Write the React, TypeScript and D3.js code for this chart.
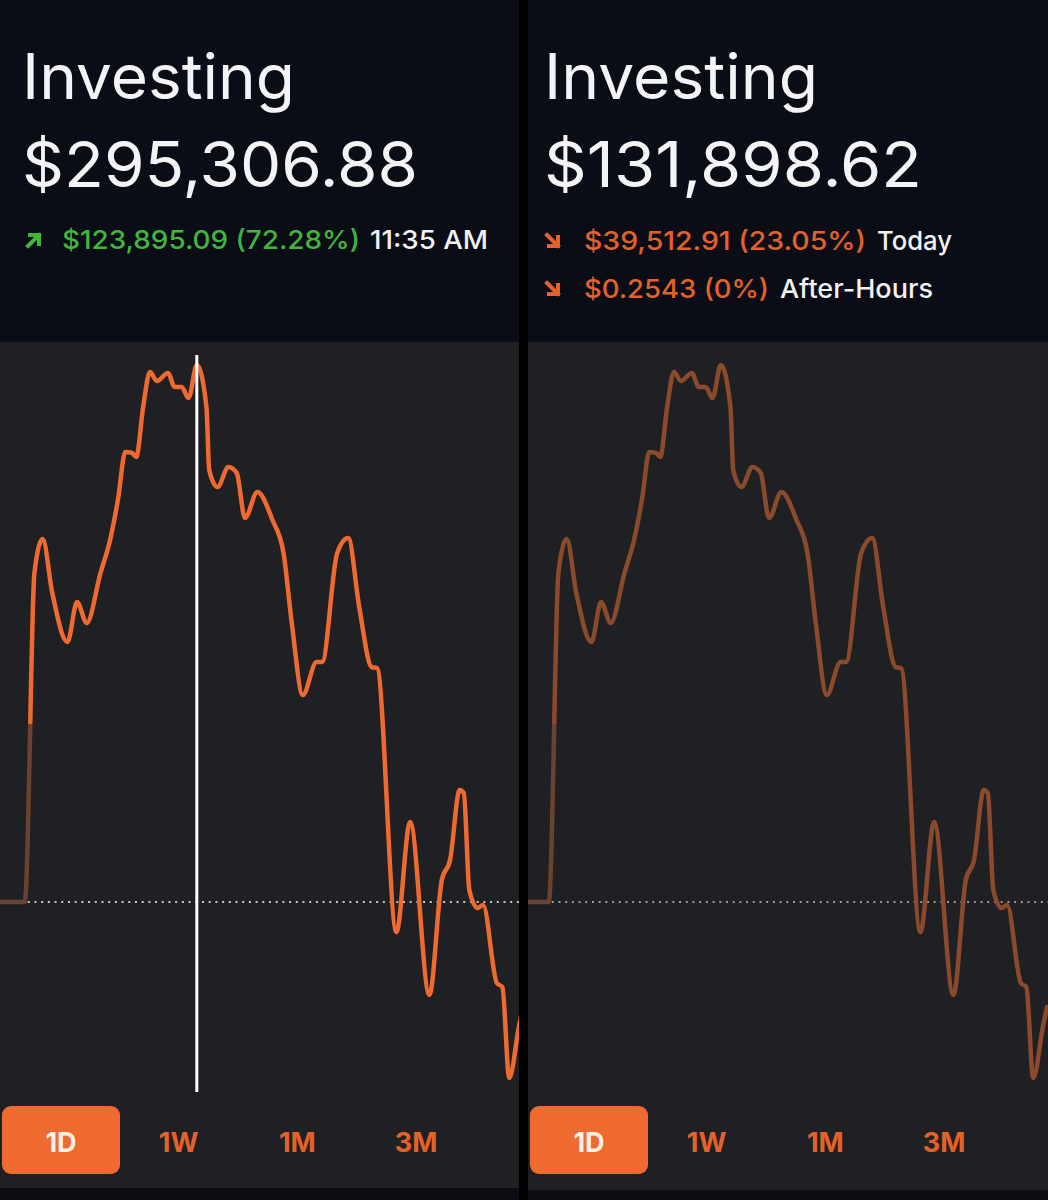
import React from "react";
import * as d3 from "d3";

// ---- data ----
// minutes after the 9:30 open (negative = pre-market)
const minutes = [-18, 0, 4, 7, 13, 20, 31, 38, 45, 55, 62, 68, 73, 78, 81, 86, 91, 96, 104, 109, 114, 119, 125, 132, 134, 140, 148, 154, 160, 169, 180, 188, 194, 202, 212, 216, 227, 235, 243, 252, 256, 270, 280, 294, 303, 309, 316, 319, 323, 329, 333, 343, 347, 352, 359, 362];
// portfolio value in dollars
const values = [171412, 171412, 212938, 247312, 255156, 242698, 231394, 240622, 235777, 247312, 254925, 264846, 275227, 274996, 274074, 285609, 293683, 291607, 293452, 290223, 290223, 287685, 295307, 285609, 271074, 267153, 271767, 270382, 260001, 265999, 259539, 251926, 235777, 219167, 226780, 226780, 251926, 255387, 239469, 225627, 225396, 164491, 189868, 149957, 176487, 181101, 197250, 196558, 174180, 170028, 170720, 152725, 151802, 130809, 142574, 147188];
const previousClose = 171411.7;
const crosshairValue = 295306.88;
const crosshairMinute = 125;
const openMinute = 4; // pre-market ends here
const ranges = ["1D", "1W", "1M", "3M"];

const leftTitle = "Investing";
const leftTotal = "$295,306.88";
const leftChange = "$123,895.09 (72.28%)";
const leftTime = "11:35 AM";
const rightTitle = "Investing";
const rightTotal = "$131,898.62";
const rightChange = "$39,512.91 (23.05%)";
const rightChangeLabel = "Today";
const rightAfter = "$0.2543 (0%)";
const rightAfterLabel = "After-Hours";

const W = 1048;
const H = 1200;
const FONT = "Inter, 'Noto Sans', sans-serif";

const HEADER_BG = "#0a0d15";
const CHART_BG = "#1f2024";
const ORANGE = "#ee6a2f";
const ORANGE_TEXT = "#e4622a";
const DIM = "#8c4a2d";
const PRE = "#6a4230";
const GREEN = "#43b53a";

const points = minutes.map((m, i) => ({ m, v: values[i] }));

const y = d3.scaleLinear().domain([previousClose, crosshairValue]).range([902, 365]);

function Panel({ offset, clipW, active }: { offset: number; clipW: number; active: boolean }) {
  const x = d3.scaleLinear().domain([-18, 362]).range([offset, offset + 523]);
  const line = d3
    .line<{ m: number; v: number }>()
    .x((d) => x(d.m))
    .y((d) => y(d.v))
    .curve(d3.curveMonotoneX);
  const pre = points.filter((p) => p.m <= openMinute);
  const main = points.filter((p) => p.m >= openMinute);
  const clipId = `clip${offset}`;
  const panelLeft = offset === 0 ? 0 : 528;
  const btnX = d3.scalePoint<string>().domain(ranges).range([panelLeft + 60, panelLeft + 416]);
  return (
    <g>
      <defs>
        <clipPath id={clipId}>
          <rect x={panelLeft} y={342} width={clipW} height={850} />
        </clipPath>
      </defs>
      <g clipPath={`url(#${clipId})`}>
        <line
          x1={x(0) + 3}
          x2={panelLeft + clipW}
          y1={y(previousClose)}
          y2={y(previousClose)}
          stroke={active ? "#c8c8c8" : "#9a9a9a"}
          strokeWidth={2}
          strokeDasharray="2 4.7"
        />
        <path d={line(pre) || ""} fill="none" stroke={PRE} strokeWidth={4.5} strokeLinejoin="round" strokeLinecap="round" />
        <path d={line(main) || ""} fill="none" stroke={active ? ORANGE : DIM} strokeWidth={4.5} strokeLinejoin="round" strokeLinecap="round" />
        {active && (
          <line x1={x(crosshairMinute)} x2={x(crosshairMinute)} y1={355} y2={1092} stroke="#ffffff" strokeWidth={3} />
        )}
      </g>
      {ranges.map((r, i) => (
        <g key={r}>
          {i === 0 && (
            <rect x={btnX(r)! - 58} y={1106} width={118} height={68} rx={9} fill={ORANGE} />
          )}
          <text
            x={btnX(r)! + (i === 0 ? 1 : 0)}
            y={1152}
            textAnchor="middle"
            fontFamily={FONT}
            fontWeight={700}
            fontSize={27}
            fill={i === 0 ? "#fff2e8" : ORANGE_TEXT}
          >
            {r}
          </text>
        </g>
      ))}
    </g>
  );
}

function Arrow({ x0, y0, up, color }: { x0: number; y0: number; up: boolean; color: string }) {
  // x0,y0: top-left of a 13px box
  const s = 12;
  const d = up
    ? `M${x0 + 1} ${y0 + s} L${x0 + s} ${y0 + 1} M${x0 + 3} ${y0 + 1} L${x0 + s} ${y0 + 1} L${x0 + s} ${y0 + 10}`
    : `M${x0 + 1} ${y0 + 1} L${x0 + s} ${y0 + s} M${x0 + 3} ${y0 + s} L${x0 + s} ${y0 + s} L${x0 + s} ${y0 + 3}`;
  return <path d={d} fill="none" stroke={color} strokeWidth={4} strokeLinecap="square" />;
}

export default function App() {
  return (
    <div style={{ position: "absolute", left: 0, top: 0, width: W, height: H }}>
      <svg width={W} height={H} viewBox={`0 0 ${W} ${H}`} style={{ display: "block" }}>
        <rect x={0} y={0} width={W} height={H} fill="#0b0d12" />
        {/* headers */}
        <rect x={0} y={0} width={519} height={342} fill={HEADER_BG} />
        <rect x={528} y={0} width={520} height={342} fill={HEADER_BG} />
        {/* chart backgrounds */}
        <rect x={0} y={342} width={519} height={846} fill={CHART_BG} />
        <rect x={528} y={342} width={520} height={848} fill={CHART_BG} />
        {/* divider */}
        <rect x={519} y={0} width={9} height={H} fill="#000000" />

        {/* left header */}
        <text x={22} y={99} fontFamily={FONT} fontSize={63} fill="#f4f4f6" textLength={273} lengthAdjust="spacingAndGlyphs">
          {leftTitle}
        </text>
        <text x={22} y={187} fontFamily={FONT} fontSize={63} fill="#f4f4f6" textLength={396} lengthAdjust="spacingAndGlyphs">
          {leftTotal}
        </text>
        <Arrow x0={27} y0={234} up={true} color={GREEN} />
        <text x={62} y={249} fontFamily={FONT} fontSize={26} fontWeight={500} fill={GREEN} textLength={298} lengthAdjust="spacingAndGlyphs">
          {leftChange}
        </text>
        <text x={370} y={249} fontFamily={FONT} fontSize={26} fontWeight={500} fill="#f2f2f2" textLength={118} lengthAdjust="spacingAndGlyphs">
          {leftTime}
        </text>

        {/* right header */}
        <text x={544} y={99} fontFamily={FONT} fontSize={63} fill="#f4f4f6" textLength={274} lengthAdjust="spacingAndGlyphs">
          {rightTitle}
        </text>
        <text x={544} y={187} fontFamily={FONT} fontSize={63} fill="#f4f4f6" textLength={378} lengthAdjust="spacingAndGlyphs">
          {rightTotal}
        </text>
        <Arrow x0={546} y0={234} up={false} color={ORANGE_TEXT} />
        <text x={584} y={250} fontFamily={FONT} fontSize={26} fontWeight={500} fill={ORANGE_TEXT} textLength={282} lengthAdjust="spacingAndGlyphs">
          {rightChange}
        </text>
        <text x={877} y={250} fontFamily={FONT} fontSize={26} fontWeight={500} fill="#f2f2f2" textLength={75} lengthAdjust="spacingAndGlyphs">
          {rightChangeLabel}
        </text>
        <Arrow x0={546} y0={282} up={false} color={ORANGE_TEXT} />
        <text x={584} y={298} fontFamily={FONT} fontSize={26} fontWeight={500} fill={ORANGE_TEXT} textLength={185} lengthAdjust="spacingAndGlyphs">
          {rightAfter}
        </text>
        <text x={780} y={298} fontFamily={FONT} fontSize={26} fontWeight={500} fill="#f2f2f2" textLength={153} lengthAdjust="spacingAndGlyphs">
          {rightAfterLabel}
        </text>

        <Panel offset={0} clipW={519} active={true} />
        <Panel offset={524} clipW={520} active={false} />
      </svg>
    </div>
  );
}
